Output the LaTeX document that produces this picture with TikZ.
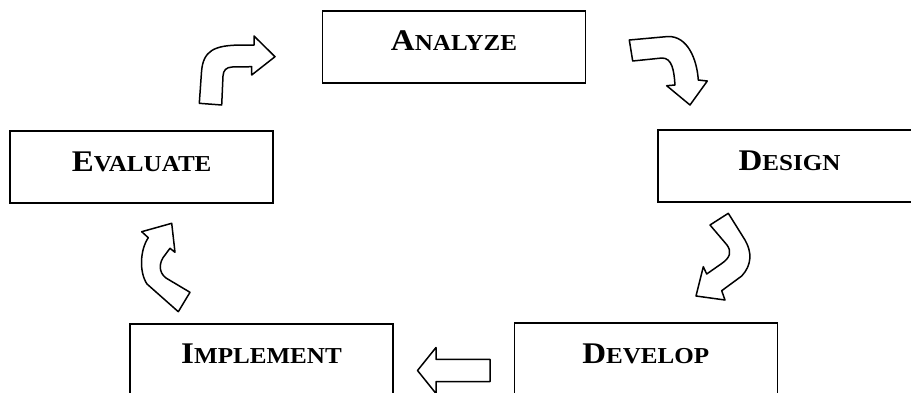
\documentclass[tikz,border=0pt]{standalone}
\usepackage{fontspec}
\setmainfont{Liberation Serif}[FakeStretch=1.1]
\newcommand{\stagename}[2]{{\fontsize{30}{30}\selectfont #1}{\fontsize{22.8}{22.8}\selectfont #2}}
\tikzset{
    stagebox/.style={draw=black, line width=1.6pt, minimum width=263pt, minimum height=72pt,
        text height=20pt, text depth=12pt, inner sep=0pt, font=\bfseries},
    blockarrow/.style={draw=black, fill=white, line width=1.5pt, line join=round}
}
\begin{document}
\begin{tikzpicture}[x=1pt, y=-1pt]
            \useasboundingbox (0,0) rectangle (911,392);
            % stages
            \node [stagebox] (analyze) at (454,46.7) {\stagename{A}{NALYZE}};
            \node [stagebox] (design) at (789.5,166) {\stagename{D}{ESIGN}};
            \node [stagebox] (develop) at (645.8,359.2) {\stagename{D}{EVELOP}};
            \node [stagebox] (implement) at (261.5,359.8) {\stagename{I}{MPLEMENT}};
            \node [stagebox] (evaluate) at (141.7,167.2) {\stagename{E}{VALUATE}};
            % block arrows
            \draw [blockarrow] (199.3,103.3) -- (201.5,72) .. controls (203,50) and (215,45.5) .. (240,45)
                -- (254,45) -- (254,36) -- (275,56.7) -- (251.7,75) -- (251.7,66.7) -- (232,67)
                .. controls (226,67.5) and (223.5,70) .. (223,76) -- (221.7,105) -- cycle;
            \draw [blockarrow] (629.3,40) -- (668,36.5) .. controls (688,36) and (697,60) .. (698.3,80)
                -- (707.3,81) -- (690,105) -- (666.7,85.7) -- (675,85)
                .. controls (674,70) and (672,58) .. (662,58) -- (632.7,61) -- cycle;
            \draw [blockarrow] (710,225) -- (728.3,213.3) -- (745,240) .. controls (752,252) and (752,265) .. (741.7,276)
                -- (721.7,290.7) -- (725,300) -- (696,296) -- (703.3,266.7) -- (706.7,274) -- (721,264)
                .. controls (730,258) and (732,252) .. (727,245) -- cycle;
            \draw [blockarrow] (490,359.3) -- (436,359.3) -- (436,347.5) -- (417.5,370.5) -- (436,393.5)
                -- (436,381.5) -- (490,381.5) -- cycle;
            \draw [blockarrow] (178.3,311.7) -- (190,292.3) -- (166,278) .. controls (158,272) and (159,262) .. (165,255)
                -- (170,248.3) -- (175,252.3) -- (171.7,223.3) -- (141.7,231.7) -- (148.3,237.7)
                .. controls (140,250) and (139,272) .. (147,284) -- cycle;
\end{tikzpicture}
\end{document}
